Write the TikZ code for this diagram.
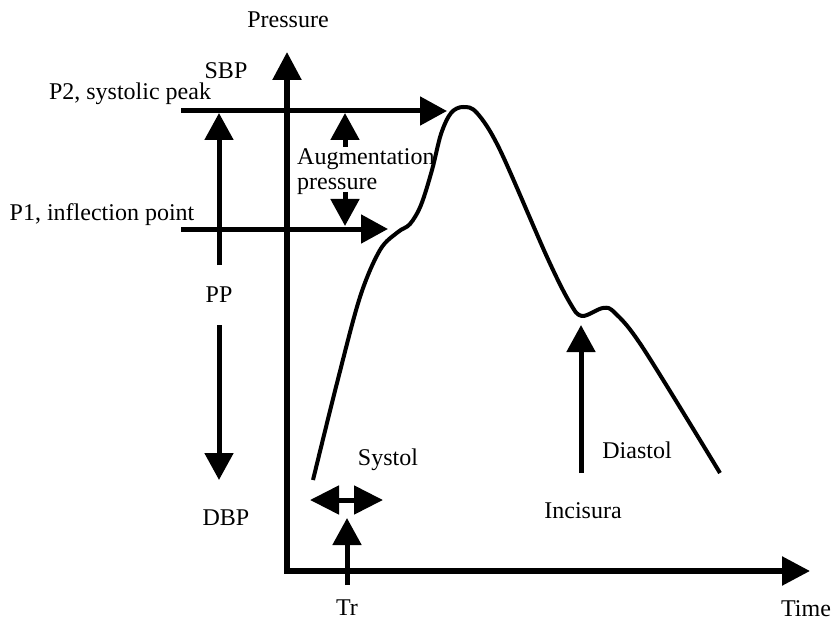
\documentclass[tikz,border=0pt]{standalone}
\usepackage{fontspec}
\setmainfont{Liberation Serif}
\usetikzlibrary{arrows.meta}
\begin{document}
\begin{tikzpicture}[x=1pt,y=-1pt,
  lbl/.style={inner sep=0pt,anchor=base,font=\fontsize{24}{28}\selectfont},
  lblw/.style={lbl,anchor=base west},
  arr/.style={line width=5pt,-{Triangle[length=27pt,width=28pt]}},
  darr/.style={line width=5pt,{Triangle[length=29pt,width=28pt]}-{Triangle[length=29pt,width=28pt]}},
  axis/.style={line width=5.5pt,line join=miter,{Triangle[length=28pt,width=28pt]}-{Triangle[length=28pt,width=28pt]}},
  wave/.style={line width=4pt,line cap=butt,line join=round}]
\useasboundingbox (0,0) rectangle (834,620);
% axes
\coordinate (ytop) at (287,52);
\coordinate (orig) at (287,571);
\coordinate (xend) at (810,571);
\draw[axis] (ytop) -- (orig) -- (xend);
% labels
\node[lbl] (pressure) at (288,28) {Pressure};
\node[lbl] (sbp) at (226,79) {SBP};
\node[lbl] (p2) at (130,100) {P2, systolic peak};
\node[lblw] (aug1) at (297,165) {Augmentation};
\node[lblw] (aug2) at (297,190) {pressure};
\node[lbl] (p1) at (102,221) {P1, inflection point};
\node[lbl] (pp) at (219,302) {PP};
\node[lbl] (dbp) at (226,525) {DBP};
\node[lbl] (systol) at (388,465) {Systol};
\node[lbl] (tr) at (347,615) {Tr};
\node[lbl] (incisura) at (583,518) {Incisura};
\node[lbl] (diastol) at (637,458) {Diastol};
\node[lbl] (time) at (806,616) {Time};
% coordinates for arrows
\coordinate (p2s) at (181,111); \coordinate (p2e) at (447,111);
\coordinate (p1s) at (181,229); \coordinate (p1e) at (388,229);
\coordinate (ppus) at (219,265); \coordinate (ppue) at (219,113);
\coordinate (ppds) at (219,325); \coordinate (ppde) at (219,480);
\coordinate (augus) at (345,147); \coordinate (augue) at (345,113);
\coordinate (augds) at (345,192); \coordinate (augde) at (345,226);
\coordinate (sysl) at (310,500); \coordinate (sysr) at (383,500);
\coordinate (trs) at (347,585); \coordinate (tre) at (347,518);
\coordinate (incs) at (581,473); \coordinate (ince) at (581,325);
% arrows
\draw[arr] (p2s) -- (p2e);
\draw[arr] (p1s) -- (p1e);
\draw[arr] (ppus) -- (ppue);
\draw[arr] (ppds) -- (ppde);
\draw[arr] (augus) -- (augue);
\draw[arr] (augds) -- (augde);
\draw[darr] (sysl) -- (sysr);
\draw[arr] (trs) -- (tre);
\draw[arr] (incs) -- (ince);
% pressure wave
\draw[wave] plot[smooth,tension=0.55] coordinates {
 (313,480) (337,383) (360,297) (380,250) (398,232) (410,224) (421,205)
 (432,170) (441,134) (451,113) (463,107) (477,113) (500,150) (547,257)
 (570,303) (582,316) (603,308) (615,313) (643,348) (720,473)};
\end{tikzpicture}
\end{document}
